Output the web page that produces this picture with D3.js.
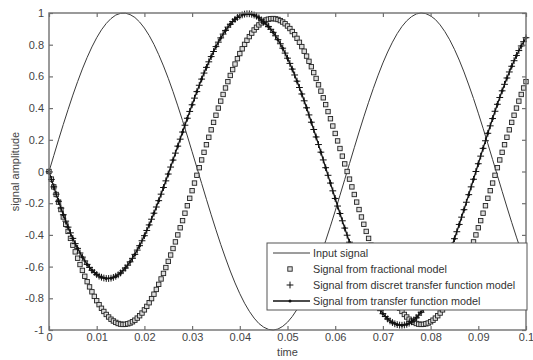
<!DOCTYPE html>
<html>
<head>
<meta charset="utf-8">
<script src="https://cdn.jsdelivr.net/npm/d3@7"></script>
<style>
  body { margin: 0; background: #fff; }
  text { font-family: "Liberation Sans", Arial, sans-serif; }
</style>
</head>
<body>
<script>
// sample steps (s)
var dtCoarse = 0.001;
var dtFine = 0.0005;

// input signal, one value every 1 ms
var inputSignal = [
  0, 0.100, 0.200, 0.297, 0.391, 0.482, 0.567, 0.647, 0.720, 0.786,
  0.844, 0.894, 0.934, 0.965, 0.987, 0.998, 0.999, 0.990, 0.972, 0.943,
  0.905, 0.858, 0.802, 0.737, 0.666, 0.588, 0.504, 0.414, 0.321, 0.224,
  0.125, 0.025, -0.075, -0.175, -0.273, -0.368, -0.460, -0.546, -0.628, -0.703,
  -0.771, -0.831, -0.882, -0.925, -0.959, -0.982, -0.996, -1.000, -0.994, -0.977,
  -0.951, -0.915, -0.870, -0.816, -0.754, -0.685, -0.608, -0.525, -0.437, -0.345,
  -0.249, -0.150, -0.050, 0.050, 0.150, 0.249, 0.345, 0.437, 0.525, 0.608,
  0.685, 0.754, 0.816, 0.870, 0.915, 0.951, 0.977, 0.994, 1.000, 0.996,
  0.982, 0.959, 0.925, 0.882, 0.831, 0.771, 0.703, 0.628, 0.546, 0.460,
  0.368, 0.273, 0.175, 0.075, -0.025, -0.125, -0.224, -0.321, -0.414, -0.504,
  -0.588
];

// fractional model, one value every 0.5 ms
var fractionalModel = [
  0, -0.048, -0.097, -0.145, -0.193, -0.240, -0.287, -0.333, -0.378, -0.422,
  -0.465, -0.507, -0.547, -0.587, -0.624, -0.661, -0.695, -0.728, -0.759, -0.788,
  -0.815, -0.840, -0.863, -0.883, -0.902, -0.918, -0.932, -0.943, -0.952, -0.959,
  -0.963, -0.965, -0.964, -0.961, -0.956, -0.948, -0.938, -0.925, -0.910, -0.893,
  -0.873, -0.851, -0.828, -0.802, -0.774, -0.744, -0.712, -0.678, -0.643, -0.606,
  -0.567, -0.527, -0.486, -0.444, -0.400, -0.355, -0.310, -0.263, -0.216, -0.169,
  -0.121, -0.073, -0.024, 0.024, 0.073, 0.121, 0.169, 0.216, 0.263, 0.310,
  0.355, 0.400, 0.444, 0.486, 0.527, 0.567, 0.606, 0.643, 0.678, 0.712,
  0.744, 0.774, 0.802, 0.828, 0.851, 0.873, 0.893, 0.910, 0.925, 0.938,
  0.948, 0.956, 0.961, 0.964, 0.965, 0.963, 0.959, 0.952, 0.943, 0.932,
  0.918, 0.902, 0.883, 0.863, 0.840, 0.815, 0.788, 0.759, 0.728, 0.695,
  0.661, 0.624, 0.587, 0.547, 0.507, 0.465, 0.422, 0.378, 0.333, 0.287,
  0.240, 0.193, 0.145, 0.097, 0.048, 0, -0.048, -0.097, -0.145, -0.193,
  -0.240, -0.287, -0.333, -0.378, -0.422, -0.465, -0.507, -0.547, -0.587, -0.624,
  -0.661, -0.695, -0.728, -0.759, -0.788, -0.815, -0.840, -0.863, -0.883, -0.902,
  -0.918, -0.932, -0.943, -0.952, -0.959, -0.963, -0.965, -0.964, -0.961, -0.956,
  -0.948, -0.938, -0.925, -0.910, -0.893, -0.873, -0.851, -0.828, -0.802, -0.774,
  -0.744, -0.712, -0.678, -0.643, -0.606, -0.567, -0.527, -0.486, -0.444, -0.400,
  -0.355, -0.310, -0.263, -0.216, -0.169, -0.121, -0.073, -0.024, 0.024, 0.073,
  0.121, 0.169, 0.216, 0.263, 0.310, 0.355, 0.400, 0.444, 0.486, 0.527,
  0.567
];

// discrete transfer function model, one value every 0.5 ms
var discreteModel = [
  -0.002, -0.050, -0.097, -0.143, -0.188, -0.231, -0.273, -0.313, -0.351, -0.387,
  -0.422, -0.455, -0.485, -0.514, -0.540, -0.564, -0.586, -0.605, -0.623, -0.637,
  -0.650, -0.660, -0.667, -0.672, -0.675, -0.675, -0.673, -0.668, -0.661, -0.652,
  -0.640, -0.626, -0.609, -0.591, -0.570, -0.548, -0.523, -0.496, -0.468, -0.437,
  -0.405, -0.372, -0.337, -0.301, -0.263, -0.224, -0.184, -0.143, -0.101, -0.059,
  -0.016, 0.028, 0.072, 0.116, 0.160, 0.204, 0.249, 0.292, 0.336, 0.379,
  0.421, 0.463, 0.504, 0.544, 0.583, 0.621, 0.657, 0.692, 0.725, 0.757,
  0.788, 0.816, 0.843, 0.867, 0.890, 0.911, 0.929, 0.946, 0.960, 0.972,
  0.981, 0.988, 0.993, 0.995, 0.995, 0.992, 0.987, 0.980, 0.970, 0.957,
  0.943, 0.930, 0.915, 0.897, 0.878, 0.856, 0.832, 0.806, 0.778, 0.747,
  0.715, 0.682, 0.646, 0.609, 0.570, 0.530, 0.489, 0.446, 0.402, 0.357,
  0.311, 0.265, 0.218, 0.170, 0.122, 0.073, 0.024, -0.024, -0.073, -0.122,
  -0.170, -0.218, -0.265, -0.311, -0.357, -0.402, -0.446, -0.489, -0.530, -0.570,
  -0.609, -0.646, -0.682, -0.715, -0.747, -0.778, -0.806, -0.832, -0.856, -0.878,
  -0.897, -0.915, -0.930, -0.943, -0.953, -0.961, -0.966, -0.969, -0.970, -0.968,
  -0.964, -0.957, -0.948, -0.936, -0.923, -0.906, -0.888, -0.867, -0.844, -0.819,
  -0.792, -0.763, -0.732, -0.699, -0.664, -0.628, -0.590, -0.550, -0.509, -0.467,
  -0.424, -0.380, -0.334, -0.288, -0.241, -0.194, -0.146, -0.097, -0.049, 0,
  0.049, 0.097, 0.146, 0.194, 0.241, 0.288, 0.334, 0.380, 0.424, 0.467,
  0.509, 0.550, 0.590, 0.628, 0.664, 0.699, 0.732, 0.763, 0.792, 0.819,
  0.844
];

// transfer function model, one value every 1 ms
var transferModel = [
  0, -0.097, -0.188, -0.273, -0.351, -0.422, -0.485, -0.540, -0.586, -0.623,
  -0.650, -0.667, -0.675, -0.673, -0.661, -0.640, -0.609, -0.570, -0.523, -0.468,
  -0.405, -0.337, -0.263, -0.184, -0.101, -0.016, 0.072, 0.160, 0.249, 0.336,
  0.421, 0.504, 0.583, 0.657, 0.725, 0.788, 0.843, 0.890, 0.929, 0.960,
  0.981, 0.993, 0.995, 0.987, 0.970, 0.943, 0.915, 0.878, 0.832, 0.778,
  0.715, 0.646, 0.570, 0.489, 0.402, 0.311, 0.218, 0.122, 0.024, -0.073,
  -0.170, -0.265, -0.357, -0.446, -0.530, -0.609, -0.682, -0.747, -0.806, -0.856,
  -0.897, -0.930, -0.953, -0.966, -0.970, -0.964, -0.948, -0.923, -0.888, -0.844,
  -0.792, -0.732, -0.664, -0.590, -0.509, -0.424, -0.334, -0.241, -0.146, -0.049,
  0.049, 0.146, 0.241, 0.334, 0.424, 0.509, 0.590, 0.664, 0.732, 0.792,
  0.844
];

var xTicks = [0, 0.01, 0.02, 0.03, 0.04, 0.05, 0.06, 0.07, 0.08, 0.09, 0.1];
var xTickLabels = ["0", "0.01", "0.02", "0.03", "0.04", "0.05", "0.06", "0.07", "0.08", "0.09", "0.1"];
var yTicks = [1, 0.8, 0.6, 0.4, 0.2, 0, -0.2, -0.4, -0.6, -0.8, -1];
var yTickLabels = ["1", "0.8", "0.6", "0.4", "0.2", "0", "-0.2", "-0.4", "-0.6", "-0.8", "-1"];
var legendLabels = [
  "Input signal",
  "Signal from fractional model",
  "Signal from discret transfer function model",
  "Signal from transfer function model"
];

var width = 533, height = 360;
var margin = { top: 13, right: 7, bottom: 30, left: 49 };

var svg = d3.select("body")
  .append("svg")
  .attr("width", width)
  .attr("height", height);

// SCALES
var x = d3.scaleLinear().domain([0, 0.1]).range([margin.left, width - margin.right]);
var y = d3.scaleLinear().domain([-1, 1]).range([height - margin.bottom, margin.top]);

var toPoints = function (values, dt) {
  return values.map(function (v, i) { return { t: i * dt, v: v }; });
};
var inputPts = toPoints(inputSignal, dtCoarse);
var fracPts = toPoints(fractionalModel, dtFine);
var discPts = toPoints(discreteModel, dtFine);
var tfPts = toPoints(transferModel, dtCoarse);

var line = d3.line()
  .x(function (d) { return x(d.t); })
  .y(function (d) { return y(d.v); });

// input signal
svg.append("path")
  .datum(inputPts)
  .attr("d", line)
  .attr("fill", "none")
  .attr("stroke", "#3a3a3a")
  .attr("stroke-width", 1);

// fractional model - squares
var sq = 4.4;
svg.append("g").selectAll("rect")
  .data(fracPts)
  .enter()
  .append("rect")
  .attr("x", function (d) { return x(d.t) - sq / 2; })
  .attr("y", function (d) { return y(d.v) - sq / 2; })
  .attr("width", sq)
  .attr("height", sq)
  .attr("fill", "#ddd")
  .attr("stroke", "#222")
  .attr("stroke-width", 0.9);

// discrete model - plus signs
var ps = 3.4;
svg.append("g").selectAll("path")
  .data(discPts)
  .enter()
  .append("path")
  .attr("d", function (d) {
    var cx = x(d.t), cy = y(d.v);
    return "M" + (cx - ps) + "," + cy + "H" + (cx + ps) + "M" + cx + "," + (cy - ps) + "V" + (cy + ps);
  })
  .attr("stroke", "#111")
  .attr("stroke-width", 1);

// transfer function model - line with dots
svg.append("path")
  .datum(tfPts)
  .attr("d", line)
  .attr("fill", "none")
  .attr("stroke", "#111")
  .attr("stroke-width", 1.3);
svg.append("g").selectAll("circle")
  .data(tfPts)
  .enter()
  .append("circle")
  .attr("cx", function (d) { return x(d.t); })
  .attr("cy", function (d) { return y(d.v); })
  .attr("r", 1.5)
  .attr("fill", "#111");

//---AXES
var axisColor = "#707070";
var textColor = "#444";

var styleAxis = function (g) {
  g.select(".domain").remove();
  g.selectAll(".tick line").attr("stroke", axisColor).attr("stroke-width", 1.2);
  g.selectAll(".tick text").attr("fill", textColor).attr("font-size", "11px");
};

svg.append("g")
  .attr("transform", "translate(0," + y(-1) + ")")
  .call(d3.axisBottom(x).tickValues(xTicks).tickSizeInner(-4).tickSizeOuter(0).tickPadding(3)
    .tickFormat(function (d, i) { return xTickLabels[i]; }))
  .call(styleAxis);
svg.append("g")
  .attr("transform", "translate(0," + y(1) + ")")
  .call(d3.axisTop(x).tickValues(xTicks).tickSizeInner(-4).tickSizeOuter(0).tickFormat(""))
  .call(styleAxis);
svg.append("g")
  .attr("transform", "translate(" + x(0) + ",0)")
  .call(d3.axisLeft(y).tickValues(yTicks).tickSizeInner(-4).tickSizeOuter(0).tickPadding(5)
    .tickFormat(function (d, i) { return yTickLabels[i]; }))
  .call(styleAxis);
svg.append("g")
  .attr("transform", "translate(" + x(0.1) + ",0)")
  .call(d3.axisRight(y).tickValues(yTicks).tickSizeInner(-4).tickSizeOuter(0).tickFormat(""))
  .call(styleAxis);

// box
svg.append("rect")
  .attr("x", x(0))
  .attr("y", y(1))
  .attr("width", x(0.1) - x(0))
  .attr("height", y(-1) - y(1))
  .attr("fill", "none")
  .attr("stroke", axisColor)
  .attr("stroke-width", 1.4);

//---LABELS
svg.append("text")
  .attr("x", (x(0) + x(0.1)) / 2)
  .attr("y", 356)
  .attr("text-anchor", "middle")
  .attr("font-size", "11px")
  .attr("fill", textColor)
  .text("time");

svg.append("text")
  .attr("transform", "translate(19," + y(0) + ") rotate(-90)")
  .attr("text-anchor", "middle")
  .attr("font-size", "11px")
  .attr("fill", textColor)
  .text("signal amplitude");

//---LEGEND
var lg = svg.append("g").attr("transform", "translate(267,243)");
lg.append("rect")
  .attr("width", 260)
  .attr("height", 67)
  .attr("fill", "#fff")
  .attr("stroke", "#555")
  .attr("stroke-width", 1);

var rowY = function (i) { return 10 + i * 16; };
var textX = 46;
var symX = 23;

lg.selectAll("text.leg")
  .data(legendLabels)
  .enter()
  .append("text")
  .attr("class", "leg")
  .attr("x", textX)
  .attr("y", function (d, i) { return rowY(i); })
  .attr("dy", "0.35em")
  .attr("font-size", "10.8px")
  .attr("fill", "#333")
  .text(function (d) { return d; });

// symbols
lg.append("line")
  .attr("x1", 6).attr("x2", 43).attr("y1", rowY(0)).attr("y2", rowY(0))
  .attr("stroke", "#3a3a3a").attr("stroke-width", 1);
lg.append("rect")
  .attr("x", symX - sq / 2).attr("y", rowY(1) - sq / 2)
  .attr("width", sq).attr("height", sq)
  .attr("fill", "#ddd").attr("stroke", "#222").attr("stroke-width", 0.9);
lg.append("path")
  .attr("d", "M" + (symX - ps) + "," + rowY(2) + "H" + (symX + ps) + "M" + symX + "," + (rowY(2) - ps) + "V" + (rowY(2) + ps))
  .attr("stroke", "#111").attr("stroke-width", 1);
lg.append("line")
  .attr("x1", 6).attr("x2", 43).attr("y1", rowY(3)).attr("y2", rowY(3))
  .attr("stroke", "#111").attr("stroke-width", 1.3);
lg.append("circle")
  .attr("cx", symX).attr("cy", rowY(3)).attr("r", 1.5).attr("fill", "#111");
</script>
</body>
</html>
